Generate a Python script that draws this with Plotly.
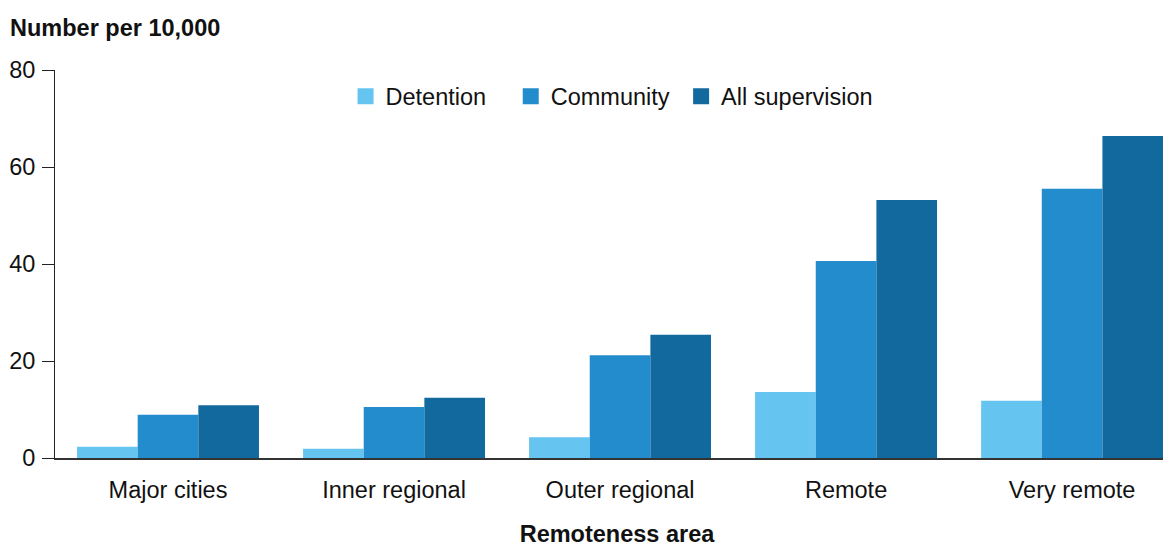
import plotly.graph_objects as go

categories = ["Major cities", "Inner regional", "Outer regional", "Remote", "Very remote"]
detention = [2.3, 1.9, 4.3, 13.6, 11.8]
community = [8.9, 10.5, 21.2, 40.6, 55.5]
all_supervision = [10.9, 12.4, 25.4, 53.2, 66.4]

series_names = ["Detention", "Community", "All supervision"]
legend_labels = ["Detention\u00a0\u00a0\u00a0", "Community\u00a0", "All supervision"]
colors = ["#66C5F0", "#238CCD", "#11699E"]

FONT = "Liberation Sans, Arial, sans-serif"
FS = 23.5

# page body has an 8px default margin; layout is offset to compensate
fig = go.Figure()
for name, vals, col in zip(series_names, [detention, community, all_supervision], colors):
    fig.add_trace(go.Bar(x=categories, y=vals, name=name, legendgroup=name, showlegend=False,
                         marker=dict(color=col, line=dict(width=0))))
for name, lab, col in zip(series_names, legend_labels, colors):
    fig.add_trace(go.Scatter(x=[None], y=[None], mode="markers", name=lab, legendgroup=name,
                             marker=dict(symbol="square", size=17, color=col), showlegend=True))

fig.update_layout(
    template="none",
    width=1171, height=542,
    margin=dict(l=47, r=0, t=62, b=92, autoexpand=False),
    paper_bgcolor="white", plot_bgcolor="white",
    font=dict(family=FONT, size=FS, color="#111111"),
    barmode="group", bargap=0.195, bargroupgap=0,
    showlegend=True,
    legend=dict(orientation="h", x=0.4956, xanchor="center", y=0.9317, yanchor="middle",
                font=dict(size=FS), bgcolor="rgba(0,0,0,0)", itemsizing="trace",
                traceorder="normal"),
    xaxis=dict(
        range=[-0.5, 4.473], showgrid=False, showline=True, linecolor="#333333", linewidth=2,
        ticks="", tickfont=dict(size=FS), ticklabelstandoff=10, automargin=False,
        title=dict(text="<b>Remoteness area</b>", font=dict(size=FS), standoff=23),
        fixedrange=True, zeroline=False,
    ),
    yaxis=dict(
        range=[0, 80], tickvals=[0, 20, 40, 60, 80], showgrid=False, zeroline=False,
        showline=True, linecolor="#222222", linewidth=1, automargin=False,
        ticks="outside", ticklen=12, tickcolor="#222222", tickwidth=1,
        tickfont=dict(size=FS), ticklabelstandoff=2,
    ),
    annotations=[dict(text="<b>Number per 10,000</b>", xref="paper", yref="paper",
                      x=-47/1124, xanchor="left", y=1 + 42/388, yanchor="middle",
                      showarrow=False, font=dict(size=FS), xshift=0)],
)

fig.write_html("out.html")
